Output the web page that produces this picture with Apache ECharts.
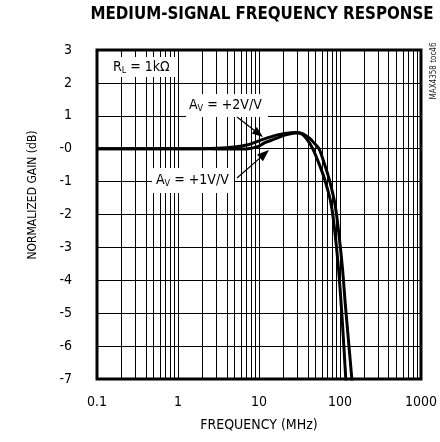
<!DOCTYPE html>
<html>
<head>
<meta charset="utf-8">
<script src="https://cdn.jsdelivr.net/npm/echarts@6/dist/echarts.min.js"></script>
<style>
html,body{margin:0;padding:0;background:#fff;}
#chart{width:440px;height:442px;}
</style>
</head>
<body>
<div id="chart"></div>
<script>
// ---- data ----
var xTicks = [0.1, 1, 10, 100, 1000];
var yTicks = [3, 2, 1, 0, -1, -2, -3, -4, -5, -6, -7];
var yTickLabels = ['3', '2', '1', '-0', '-1', '-2', '-3', '-4', '-5', '-6', '-7'];
var minorMultipliers = [2, 3, 4, 5, 6, 7, 8, 9];

// Av = +2V/V
var freqAv2 = [0.1, 0.3, 1, 2, 3, 5, 7.3, 10, 11.7, 14, 17, 22, 28, 35, 42, 48, 55, 65, 75, 87, 97, 107, 117, 128, 140, 150];
var gainAv2 = [0, 0, 0, 0, 0.01, 0.05, 0.12, 0.24, 0.3, 0.36, 0.42, 0.47, 0.49, 0.45, 0.32, 0.17, 0, -0.5, -1, -1.7, -2.6, -3.6, -4.8, -5.9, -7.0, -8.0];
// Av = +1V/V
var freqAv1 = [0.1, 0.3, 1, 2, 3, 5, 7.3, 10, 11.7, 14, 17, 22, 28, 31, 35, 40, 46, 56, 66, 78, 88, 97, 106, 116, 125];
var gainAv1 = [0, 0, 0, 0, -0.01, -0.01, 0.0, 0.08, 0.18, 0.25, 0.33, 0.43, 0.48, 0.48, 0.42, 0.25, 0, -0.5, -1, -1.7, -2.7, -3.8, -5.1, -6.7, -8.0];

// ---- build ----
function pairs(xs, ys) { return xs.map(function (x, i) { return [x, ys[i]]; }); }
var minorLines = [];
for (var d = 0; d < xTicks.length - 1; d++) {
  minorMultipliers.forEach(function (m) { minorLines.push({ xAxis: m * xTicks[d] }); });
}

var NARROW = '"Liberation Sans Narrow", "DejaVu Sans Condensed", "Roboto Condensed", sans-serif';

function arrow(x1, y1, x2, y2, hl, hw) {
  var dx = x2 - x1, dy = y2 - y1, L = Math.sqrt(dx * dx + dy * dy);
  var ux = dx / L, uy = dy / L, px = -uy, py = ux;
  var bx = x2 - ux * hl, by = y2 - uy * hl;
  return [
    { type: 'line', z: 120, shape: { x1: x1, y1: y1, x2: bx + ux * 2, y2: by + uy * 2 }, style: { stroke: '#000', lineWidth: 1.2 } },
    { type: 'polygon', z: 120, shape: { points: [[x2, y2], [bx + px * hw, by + py * hw], [bx - px * hw, by - py * hw]] }, style: { fill: '#000' } }
  ];
}

var chart = echarts.init(document.getElementById('chart'), null, { renderer: 'canvas' });

var graphics = [
  { type: 'rect', z: 100, shape: { x: 108, y: 57, width: 70, height: 20 }, style: { fill: '#fff' } },
  { type: 'text', z: 110, x: 113, y: 67, style: { rich: { a: { fontFamily: NARROW, fontSize: 14, fill: '#000', lineHeight: 16 }, s: { fontFamily: NARROW, fontSize: 9, fill: '#000', lineHeight: 12, verticalAlign: 'bottom' } }, text: '{a|R}{s|L}{a| = 1kΩ}', verticalAlign: 'middle', align: 'left' } },
  { type: 'rect', z: 100, shape: { x: 186, y: 94, width: 82, height: 23 }, style: { fill: '#fff' } },
  { type: 'text', z: 110, x: 189, y: 105, style: { rich: { a: { fontFamily: NARROW, fontSize: 14, fill: '#000', lineHeight: 16 }, s: { fontFamily: NARROW, fontSize: 9, fill: '#000', lineHeight: 12, verticalAlign: 'bottom' } }, text: '{a|A}{s|V}{a| = +2V/V}', verticalAlign: 'middle', align: 'left' } },
  { type: 'rect', z: 100, shape: { x: 152, y: 168, width: 82, height: 25 }, style: { fill: '#fff' } },
  { type: 'text', z: 110, x: 156, y: 180, style: { rich: { a: { fontFamily: NARROW, fontSize: 14, fill: '#000', lineHeight: 16 }, s: { fontFamily: NARROW, fontSize: 9, fill: '#000', lineHeight: 12, verticalAlign: 'bottom' } }, text: '{a|A}{s|V}{a| = +1V/V}', verticalAlign: 'middle', align: 'left' } },
  { type: 'text', z: 110, x: 33, y: 195, rotation: Math.PI / 2, style: { text: 'NORMALIZED GAIN (dB)', fontFamily: NARROW, fontSize: 12, fill: '#000', align: 'center', verticalAlign: 'middle' } },
  { type: 'text', z: 110, x: 434, y: 71, rotation: Math.PI / 2, style: { text: 'MAX4358 toc46', fontFamily: NARROW, fontSize: 8, fill: '#222', align: 'center', verticalAlign: 'middle' } },
  { type: 'text', z: 110, x: 262, y: 15, style: { text: 'MEDIUM-SIGNAL FREQUENCY RESPONSE', fontFamily: NARROW, fontWeight: 'bold', fontSize: 16.8, fill: '#000', align: 'center', verticalAlign: 'middle' } }
].concat(arrow(237, 117, 263, 137, 11, 4)).concat(arrow(237, 178, 269, 150, 12, 4.5));

chart.setOption({
  animation: false,
  backgroundColor: '#fff',
  grid: { left: 97, right: 15, top: 50, bottom: 63, show: true, borderColor: '#000', borderWidth: 3, backgroundColor: 'transparent' },
  xAxis: {
    type: 'log', logBase: 10, min: xTicks[0], max: xTicks[xTicks.length - 1],
    axisLine: { show: false }, axisTick: { show: false },
    splitLine: { show: true, lineStyle: { color: '#000', width: 1 } },
    axisLabel: { color: '#000', fontFamily: NARROW, fontSize: 14, margin: 16, formatter: function (v) { return String(v); } },
    name: 'FREQUENCY (MHz)', nameLocation: 'middle', nameGap: 39,
    nameTextStyle: { color: '#000', fontFamily: NARROW, fontSize: 14 }
  },
  yAxis: {
    type: 'value', min: yTicks[yTicks.length - 1], max: yTicks[0], interval: 1,
    axisLine: { show: false }, axisTick: { show: false },
    splitLine: { show: true, lineStyle: { color: '#000', width: 1 } },
    axisLabel: { color: '#000', fontFamily: NARROW, fontSize: 14, margin: 25, formatter: function (v) { var i = yTicks.indexOf(v); return i >= 0 ? yTickLabels[i] : ''; } }
  },
  graphic: graphics,
  series: [
    { type: 'line', name: 'grid', data: [], silent: true,
      markLine: { silent: true, symbol: ['none', 'none'], label: { show: false }, lineStyle: { color: '#000', width: 1, type: 'solid' }, data: minorLines, animation: false } },
    { type: 'line', name: 'Av=+2V/V', data: pairs(freqAv2, gainAv2), showSymbol: false, smooth: 0.3, clip: true, lineStyle: { color: '#000', width: 3 }, z: 5 },
    { type: 'line', name: 'Av=+1V/V', data: pairs(freqAv1, gainAv1), showSymbol: false, smooth: 0.3, clip: true, lineStyle: { color: '#000', width: 3 }, z: 5 }
  ]
});
</script>
</body>
</html>
